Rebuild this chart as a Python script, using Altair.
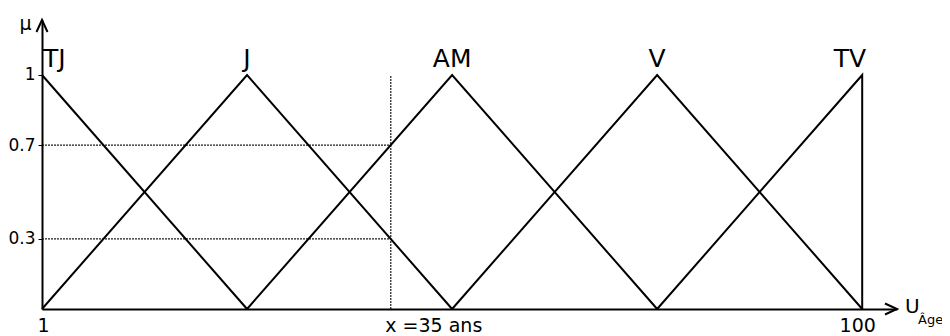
import altair as alt
import pandas as pd

# ---- data ----
set_names = ["TJ", "J", "AM", "V", "TV"]
peak_x = [1, 25.75, 50.5, 75.25, 100]
tj_x, tj_mu = [1, 25.75], [1, 0]
j_x, j_mu = [1, 25.75, 50.5], [0, 1, 0]
am_x, am_mu = [25.75, 50.5, 75.25], [0, 1, 0]
v_x, v_mu = [50.5, 75.25, 100], [0, 1, 0]
tv_x, tv_mu = [75.25, 100, 100], [0, 1, 0]

cursor_x = 43.1          # position of "x = 35 ans" on the drawn axis
cut_levels = [0.7, 0.3]  # membership degrees read at x
x_ticks = [1, cursor_x, 100]
x_tick_labels = ["1", "x =35 ans", "100"]
y_ticks = [0.3, 0.7, 1]
y_tick_labels = ["0.3", "0.7", "1"]
x_end, y_end = 104.2, 1.235   # arrow tips of the axes
unit_label, unit_sub = "U", "Âge"
FONT = "DejaVu Sans"

# ---- tables ----
rows = []
for name, xs_, ms_ in zip(set_names, [tj_x, j_x, am_x, v_x, tv_x],
                          [tj_mu, j_mu, am_mu, v_mu, tv_mu]):
    for i, (a, b) in enumerate(zip(xs_, ms_)):
        rows.append({"set": name, "i": i, "x": a, "mu": b})
lines_df = pd.DataFrame(rows)
peaks_df = pd.DataFrame({"set": set_names, "x": peak_x, "mu": [1] * len(set_names)})
hdots_df = pd.DataFrame({"x": [x_ticks[0]] * len(cut_levels), "x2": [cursor_x] * len(cut_levels),
                         "mu": cut_levels})
vdot_df = pd.DataFrame({"x": [cursor_x], "mu": [0], "mu2": [1]})
yarrow_df = pd.DataFrame({"x": [x_ticks[0]], "mu": [y_end]})
xarrow_df = pd.DataFrame({"x": [x_end], "mu": [0]})
unit_df = pd.DataFrame({"x": [x_end], "mu": [0], "u": [unit_label], "sub": [unit_sub]})

def expr_map(vals, labels):
    e = "''"
    for v, l in zip(vals, labels):
        e = f"abs(datum.value - {v}) < 0.01 ? '{l}' : " + e
    return e

xs = alt.Scale(domain=[1, x_end], nice=False, zero=False)
ys = alt.Scale(domain=[0, y_end], nice=False, zero=False)

x_axis = alt.Axis(
    values=x_ticks, labelExpr=expr_map(x_ticks, x_tick_labels), title=None,
    grid=False, ticks=False, tickSize=0, domainColor="black", domainWidth=2,
    labelFont=FONT, labelFontSize=19, labelColor="black", labelPadding=7,
    labelFlush=False, labelOverlap=False,
    labelAlign={"condition": {"test": "datum.value > 2 && datum.value < 99", "value": "left"},
                "value": "center"},
    labelOffset={"condition": [{"test": "datum.value > 99", "value": -5},
                               {"test": "datum.value > 2", "value": -6}],
                 "value": 1},
)
y_axis = alt.Axis(
    values=y_ticks, labelExpr=expr_map(y_ticks, y_tick_labels),
    title="μ", titleAngle=0, titleAlign="center", titleBaseline="alphabetic",
    titleX=-17, titleY=9, titleFont=FONT, titleFontSize=19, titleFontWeight="normal",
    titleColor="black",
    grid=False, ticks=True, tickSize=4, tickColor="black", tickWidth=1,
    domainColor="black", domainWidth=2,
    labelFont=FONT, labelFontSize=17, labelColor="black", labelPadding=3,
    labelFlush=False, labelOverlap=False,
)

X = lambda f="x": alt.X(f"{f}:Q", scale=xs, axis=x_axis)
Y = lambda f="mu": alt.Y(f"{f}:Q", scale=ys, axis=y_axis)

curves = alt.Chart(lines_df).mark_line(color="black", strokeWidth=2).encode(
    x=X(), y=Y(), detail="set:N", order="i:Q")

dot_kw = dict(color="black", strokeWidth=1.2, strokeDash=[2, 1], opacity=0.9)
hdots = alt.Chart(hdots_df).mark_rule(**dot_kw).encode(x=X(), x2="x2:Q", y=Y())
vdot = alt.Chart(vdot_df).mark_rule(**dot_kw).encode(x=X(), y=Y(), y2="mu2:Q")

lbl_kw = dict(font=FONT, fontSize=25, baseline="alphabetic", dy=-8, color="black")
lbl_center = alt.Chart(peaks_df).transform_filter(
    "datum.set != 'TJ' && datum.set != 'TV'").mark_text(align="center", **lbl_kw).encode(
    x=X(), y=Y(), text="set:N")
lbl_left = alt.Chart(peaks_df).transform_filter("datum.set == 'TJ'").mark_text(
    align="left", dx=1, **lbl_kw).encode(x=X(), y=Y(), text="set:N")
lbl_right = alt.Chart(peaks_df).transform_filter("datum.set == 'TV'").mark_text(
    align="right", dx=4, **lbl_kw).encode(x=X(), y=Y(), text="set:N")

yarrow = alt.Chart(yarrow_df).mark_point(
    shape="M-0.46,1L0,0L0.46,1", size=576, filled=False, color="black", strokeWidth=2, opacity=1
).encode(x=X(), y=Y())
xarrow = alt.Chart(xarrow_df).mark_point(
    shape="M-1,-0.46L0,0L-1,0.46", size=576, filled=False, color="black", strokeWidth=2, opacity=1
).encode(x=X(), y=Y())

unit_u = alt.Chart(unit_df).mark_text(
    font=FONT, fontSize=20, align="left", baseline="alphabetic", dx=8, dy=4, color="black"
).encode(x=X(), y=Y(), text="u:N")
unit_s = alt.Chart(unit_df).mark_text(
    font=FONT, fontSize=13, align="left", baseline="alphabetic", dx=21, dy=15, color="black"
).encode(x=X(), y=Y(), text="sub:N")

chart = alt.layer(
    hdots, vdot, curves, lbl_center, lbl_left, lbl_right, yarrow, xarrow, unit_u, unit_s
).properties(
    width=855, height=289,
    autosize=alt.AutoSizeParams(type="none"),
    padding={"left": 34, "top": 12, "right": 45, "bottom": 26},
    background="white",
).configure_view(stroke=None)

chart.save("out.html", embed_options={"renderer": "svg", "actions": False})
